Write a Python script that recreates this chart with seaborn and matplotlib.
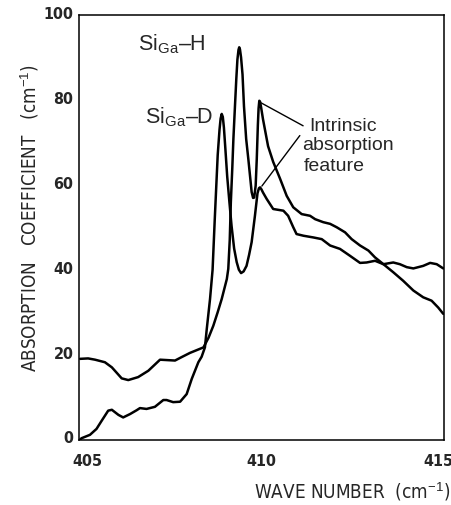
import numpy as np
import pandas as pd
import matplotlib
matplotlib.use("Agg")
import matplotlib.pyplot as plt
import matplotlib.transforms as mtrans
from matplotlib import font_manager as fm
import seaborn as sns

# ---- data ----
d_x = [405.03, 405.07, 405.30, 405.48, 405.62, 405.80, 405.90, 406.08, 406.21, 406.40,
       406.58, 406.67, 406.85, 407.08, 407.31, 407.40, 407.58, 407.77, 407.95, 408.09,
       408.27, 408.36, 408.45, 408.50, 408.59, 408.66, 408.72, 408.80, 408.85, 408.88,
       408.91, 408.94, 408.97, 409.01, 409.06, 409.12, 409.18, 409.25, 409.32, 409.38,
       409.44, 409.51, 409.59, 409.66, 409.73, 409.82, 409.89, 409.93, 409.96, 410.00,
       410.04, 410.14, 410.32, 410.60, 410.73, 410.87, 410.96, 411.15, 411.42, 411.65,
       411.88, 412.15, 412.42, 412.70, 412.88, 413.11, 413.34, 413.61, 413.79, 413.98,
       414.16, 414.43, 414.62, 414.80, 414.98]
d_y = [0.0, 0.3, 1.1, 2.5, 4.4, 6.8, 7.0, 5.8, 5.2, 6.0,
       6.9, 7.4, 7.2, 7.7, 9.3, 9.3, 8.8, 8.9, 10.7, 14.3,
       18.2, 19.5, 21.7, 26.0, 33.1, 40.0, 52.0, 67.0, 73.0, 75.6,
       76.7, 76.0, 73.5, 68.5, 62.0, 56.0, 50.3, 45.0, 41.8, 40.0,
       39.2, 39.6, 40.9, 43.5, 46.5, 52.7, 58.0, 59.2, 59.4, 58.9,
       58.2, 56.7, 54.3, 53.9, 52.7, 50.0, 48.4, 48.0, 47.6, 47.2,
       45.7, 44.9, 43.3, 41.6, 41.7, 42.1, 41.3, 41.7, 41.3, 40.6,
       40.3, 40.9, 41.6, 41.3, 40.3]

h_x = [405.03, 405.25, 405.44, 405.71, 405.90, 406.17, 406.35, 406.62, 406.90, 407.22,
       407.63, 407.81, 408.04, 408.41, 408.55, 408.68, 408.80, 408.91, 409.05, 409.09,
       409.13, 409.16, 409.20, 409.23, 409.27, 409.31, 409.34, 409.37, 409.39, 409.41,
       409.44, 409.48, 409.52, 409.58, 409.64, 409.73, 409.77, 409.80, 409.84, 409.87,
       409.90, 409.92, 409.94, 409.96, 409.99, 410.04, 410.18, 410.32, 410.51, 410.69,
       410.87, 411.10, 411.33, 411.47, 411.69, 411.88, 412.06, 412.29, 412.47, 412.70,
       412.93, 413.11, 413.34, 413.61, 413.88, 414.16, 414.43, 414.66, 414.84, 414.98]
h_y = [19.0, 19.1, 18.8, 18.2, 17.0, 14.4, 14.0, 14.7, 16.2, 18.8,
       18.6, 19.4, 20.4, 21.7, 24.0, 26.8, 30.0, 33.1, 37.8, 40.2,
       47.0, 55.9, 64.0, 70.8, 78.0, 85.0, 89.5, 91.8, 92.4, 91.9,
       90.0, 86.0, 78.5, 70.8, 66.0, 58.3, 56.9, 57.0, 59.8, 66.0,
       74.0, 78.0, 79.8, 79.6, 78.2, 75.5, 69.1, 65.4, 61.4, 57.4,
       54.7, 53.1, 52.7, 51.9, 51.2, 50.8, 50.0, 48.8, 47.2, 45.7,
       44.5, 42.9, 41.3, 39.4, 37.4, 35.1, 33.5, 32.7, 31.1, 29.6]

x_ticks = [405, 410, 415]
y_ticks = [0, 20, 40, 60, 80, 100]

sns.set_style("white")
plt.rcParams["font.family"] = ["Liberation Sans", "DejaVu Sans"]
plt.rcParams["mathtext.fontset"] = "custom"
plt.rcParams["mathtext.rm"] = "Liberation Sans"
plt.rcParams["mathtext.it"] = "Liberation Sans"
plt.rcParams["mathtext.bf"] = "Liberation Sans:bold"


def find_condensed(bold):
    best = None
    for f in fm.fontManager.ttflist:
        st = f.stretch
        cond = ("Condensed" in f.name or "Narrow" in f.name or
                st in ("condensed", "semi-condensed", "extra-condensed", "ultra-condensed") or
                (isinstance(st, (int, float)) and st < 500))
        if not cond or f.style != "normal":
            continue
        w = f.weight if isinstance(f.weight, (int, float)) else {"bold": 700, "normal": 400, "regular": 400}.get(f.weight, 400)
        if bold and w < 600:
            continue
        if not bold and w >= 600:
            continue
        score = 0 if any(k in f.name for k in ("Liberation", "DejaVu", "Roboto", "Open Sans", "Noto Sans")) else 1
        if "Mono" in f.name or "Serif" in f.name:
            score += 5
        if best is None or score < best[0]:
            best = (score, f.fname)
    return best[1] if best else None


reg_file = find_condensed(False)
bold_file = find_condensed(True)


def fp(size, bold=False):
    path = bold_file if bold else reg_file
    if path:
        return fm.FontProperties(fname=path, size=size)
    return fm.FontProperties(family=["Liberation Sans", "DejaVu Sans"], size=size,
                             weight="bold" if bold else "normal")


df = pd.concat([
    pd.DataFrame({"x": d_x, "y": d_y, "series": "SiGa-D"}),
    pd.DataFrame({"x": h_x, "y": h_y, "series": "SiGa-H"}),
])

fig = plt.figure(figsize=(4.52, 5.06), dpi=100)
ax = fig.add_axes([79 / 452, 1 - 440.5 / 506, (444 - 79) / 452, (440.5 - 16) / 506])

sns.lineplot(data=df, x="x", y="y", hue="series", palette=["black", "black"],
             sort=False, estimator=None, legend=False, linewidth=1.8, ax=ax)

ax.set_xlim(405, 415)
ax.set_ylim(0, 100)
ax.set_xticks(x_ticks)
ax.set_yticks(y_ticks)
tick_fp = fp(11.5 if bold_file else 10.5, bold=True)
ax.set_xticklabels([str(t) for t in x_ticks], fontproperties=tick_fp)
ax.set_yticklabels([str(t) for t in y_ticks], fontproperties=tick_fp)
ax.tick_params(axis="both", direction="out", length=2, width=1, color="black", pad=2)
ax.tick_params(axis="x", pad=8)
for lab in ax.get_yticklabels():
    lab.set_transform(lab.get_transform() + mtrans.ScaledTranslation(0, 3 / 100, fig.dpi_scale_trans))
xl = ax.get_xticklabels()
xl[0].set_transform(xl[0].get_transform() + mtrans.ScaledTranslation(8 / 100, 0, fig.dpi_scale_trans))
xl[-1].set_transform(xl[-1].get_transform() + mtrans.ScaledTranslation(-6 / 100, 0, fig.dpi_scale_trans))
for s in ax.spines.values():
    s.set_color("black")
    s.set_linewidth(1.1)
ax.set_xlabel("")
ax.set_ylabel("")

ylab = fig.text(30 / 452, 1 - 218 / 506, "ABSORPTION   COEFFICIENT   (cm$^{-1}$)",
                rotation=90, ha="center", va="center", fontproperties=fp(15))
xlab = fig.text(450 / 452, 1 - 499 / 506, "WAVE NUMBER  (cm$^{-1}$)",
                ha="right", va="baseline", fontproperties=fp(15))

# fit label sizes to the reference extents
fig.canvas.draw()
r = fig.canvas.get_renderer()
h = ylab.get_window_extent(r).height
ylab.set_fontsize(15 * 309 / h)
w = xlab.get_window_extent(r).width
xlab.set_fontsize(15 * 196 / w)

ax.text(406.62, 92.0, "Si$_{\\mathrm{Ga}}$–H", fontsize=15.5, ha="left", va="baseline")
ax.text(406.81, 74.8, "Si$_{\\mathrm{Ga}}$–D", fontsize=15.5, ha="left", va="baseline")

# annotation targets from the data
hx = np.array(h_x); hy = np.array(h_y)
dx = np.array(d_x); dy = np.array(d_y)
ih = np.argmax(np.where(hx > 409.8, hy, -1))
idd = np.argmax(np.where(dx > 409.7, dy, -1))
ax.annotate("", xy=(hx[ih] + 0.05, hy[ih] - 0.5), xytext=(411.14, 73.9),
            arrowprops=dict(arrowstyle="-", color="black", lw=1.0, shrinkA=0, shrinkB=0))
ax.annotate("", xy=(dx[idd] + 0.05, dy[idd] + 0.3), xytext=(411.05, 71.6),
            arrowprops=dict(arrowstyle="-", color="black", lw=1.0, shrinkA=0, shrinkB=0))
ax.text(411.32, 73.0, "Intrinsic", fontsize=14, ha="left", va="baseline")
ax.text(411.10, 68.4, "absorption", fontsize=14, ha="left", va="baseline")
ax.text(411.15, 63.6, "feature", fontsize=14, ha="left", va="baseline")

fig.savefig("out.png", dpi=100)
